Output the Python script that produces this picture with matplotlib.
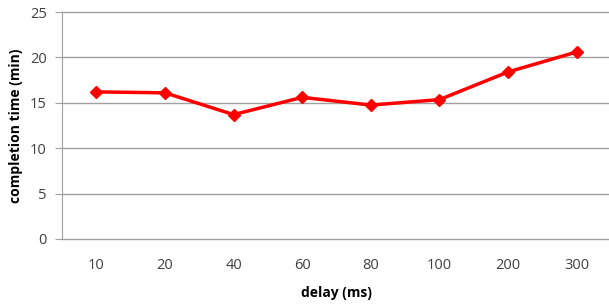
import matplotlib.pyplot as plt

# data
delays = ['10', '20', '40', '60', '80', '100', '200', '300']
completion = [16.2, 16.1, 13.7, 15.6, 14.75, 15.35, 18.4, 20.6]

plt.rcParams['font.family'] = ['Open Sans', 'DejaVu Sans']

fig = plt.figure(figsize=(6.09, 3.07), dpi=100)
ax = fig.add_axes([62/609, 68/307, 549/609, 227/307])

pos = range(len(delays))
ax.plot(pos, completion, color='#ff0000', linewidth=2.5, marker='D', markersize=6)

ax.set_xlim(-0.5, len(delays) - 0.5)
ax.set_ylim(0, 25)
ax.set_yticks([0, 5, 10, 15, 20, 25])
ax.set_xticks(list(pos))
ax.set_xticklabels(delays)
ax.grid(axis='y', color='#a0a0a0', linewidth=1)
for gl in ax.get_ygridlines():
    gl.set_clip_on(False)
ax.set_axisbelow(True)

for s in ['top', 'right', 'bottom']:
    ax.spines[s].set_visible(False)
ax.spines['left'].set_color('#a0a0a0')
ax.tick_params(axis='y', length=5, color='#a0a0a0', labelsize=10.5, labelcolor='#404040', pad=6)
ax.tick_params(axis='x', length=0, labelsize=10.5, labelcolor='#404040', pad=14)

ax.set_xlabel('delay (ms)', fontsize=10, fontweight='bold', labelpad=9)
ax.set_ylabel('completion time (min)', fontsize=10, fontweight='bold', labelpad=5)

fig.savefig('out.png', dpi=100)
